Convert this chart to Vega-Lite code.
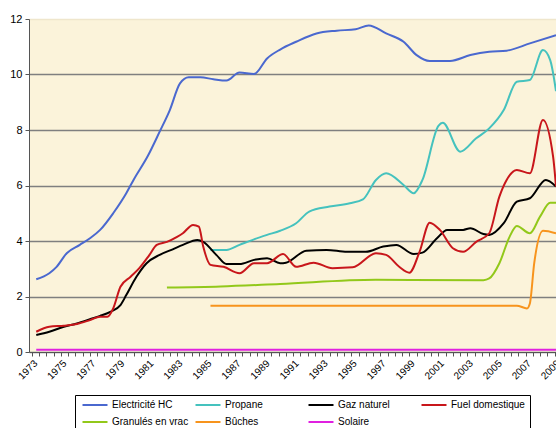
{
  "$schema": "https://vega.github.io/schema/vega-lite/v6.json",
  "width": 527,
  "height": 333,
  "autosize": {"type": "none"},
  "padding": {"left": 29, "top": 19, "right": 0, "bottom": 76},
  "background": "white",
  "config": {
    "view": {"fill": "#FBF3DA", "stroke": null},
    "font": "Liberation Sans",
    "axis": {"labelFont": "Liberation Sans", "labelColor": "black", "domainColor": "#555555", "tickColor": "#555555", "titleFont": "Liberation Sans"}
  },
  "data": {"values": [
    {"s":"Electricité HC","x":1973.3,"y":2.62},{"s":"Electricité HC","x":1974.2,"y":2.84},{"s":"Electricité HC","x":1974.7,"y":3.07},{"s":"Electricité HC","x":1975.4,"y":3.56},{"s":"Electricité HC","x":1976.3,"y":3.86},{"s":"Electricité HC","x":1977.0,"y":4.1},{"s":"Electricité HC","x":1977.7,"y":4.4},{"s":"Electricité HC","x":1978.6,"y":5.0},{"s":"Electricité HC","x":1979.5,"y":5.72},{"s":"Electricité HC","x":1980.0,"y":6.2},{"s":"Electricité HC","x":1981.0,"y":7.08},{"s":"Electricité HC","x":1981.8,"y":7.94},{"s":"Electricité HC","x":1982.5,"y":8.72},{"s":"Electricité HC","x":1983.2,"y":9.68},{"s":"Electricité HC","x":1983.8,"y":9.9},{"s":"Electricité HC","x":1984.6,"y":9.9},{"s":"Electricité HC","x":1985.5,"y":9.83},{"s":"Electricité HC","x":1986.4,"y":9.78},{"s":"Electricité HC","x":1987.3,"y":10.07},{"s":"Electricité HC","x":1988.3,"y":10.02},{"s":"Electricité HC","x":1989.2,"y":10.58},{"s":"Electricité HC","x":1990.1,"y":10.9},{"s":"Electricité HC","x":1991.2,"y":11.18},{"s":"Electricité HC","x":1992.6,"y":11.48},{"s":"Electricité HC","x":1994.0,"y":11.58},{"s":"Electricité HC","x":1995.3,"y":11.63},{"s":"Electricité HC","x":1996.2,"y":11.77},{"s":"Electricité HC","x":1997.4,"y":11.48},{"s":"Electricité HC","x":1998.6,"y":11.18},{"s":"Electricité HC","x":1999.5,"y":10.7},{"s":"Electricité HC","x":2000.4,"y":10.49},{"s":"Electricité HC","x":2001.8,"y":10.49},{"s":"Electricité HC","x":2003.2,"y":10.7},{"s":"Electricité HC","x":2004.5,"y":10.82},{"s":"Electricité HC","x":2005.7,"y":10.86},{"s":"Electricité HC","x":2007.3,"y":11.12},{"s":"Electricité HC","x":2009.1,"y":11.42},
    {"s":"Propane","x":1985.3,"y":3.68},{"s":"Propane","x":1986.4,"y":3.68},{"s":"Propane","x":1987.3,"y":3.86},{"s":"Propane","x":1988.3,"y":4.06},{"s":"Propane","x":1989.2,"y":4.22},{"s":"Propane","x":1990.1,"y":4.37},{"s":"Propane","x":1991.2,"y":4.64},{"s":"Propane","x":1992.1,"y":5.06},{"s":"Propane","x":1993.5,"y":5.24},{"s":"Propane","x":1994.9,"y":5.36},{"s":"Propane","x":1995.8,"y":5.5},{"s":"Propane","x":1996.7,"y":6.2},{"s":"Propane","x":1997.4,"y":6.44},{"s":"Propane","x":1998.6,"y":6.02},{"s":"Propane","x":1999.3,"y":5.72},{"s":"Propane","x":1999.9,"y":6.2},{"s":"Propane","x":2001.0,"y":8.15},{"s":"Propane","x":2001.3,"y":8.26},{"s":"Propane","x":2002.5,"y":7.22},{"s":"Propane","x":2003.6,"y":7.7},{"s":"Propane","x":2004.5,"y":8.06},{"s":"Propane","x":2005.5,"y":8.72},{"s":"Propane","x":2006.4,"y":9.74},{"s":"Propane","x":2007.3,"y":9.8},{"s":"Propane","x":2008.2,"y":10.88},{"s":"Propane","x":2008.7,"y":10.52},{"s":"Propane","x":2009.1,"y":9.4},
    {"s":"Gaz naturel","x":1973.3,"y":0.61},{"s":"Gaz naturel","x":1974.2,"y":0.73},{"s":"Gaz naturel","x":1975.2,"y":0.91},{"s":"Gaz naturel","x":1976.1,"y":1.03},{"s":"Gaz naturel","x":1977.0,"y":1.18},{"s":"Gaz naturel","x":1977.7,"y":1.3},{"s":"Gaz naturel","x":1978.4,"y":1.45},{"s":"Gaz naturel","x":1979.1,"y":1.69},{"s":"Gaz naturel","x":1979.5,"y":2.05},{"s":"Gaz naturel","x":1980.2,"y":2.71},{"s":"Gaz naturel","x":1980.9,"y":3.2},{"s":"Gaz naturel","x":1981.8,"y":3.5},{"s":"Gaz naturel","x":1982.7,"y":3.7},{"s":"Gaz naturel","x":1983.4,"y":3.86},{"s":"Gaz naturel","x":1984.4,"y":4.04},{"s":"Gaz naturel","x":1984.8,"y":3.97},{"s":"Gaz naturel","x":1985.7,"y":3.5},{"s":"Gaz naturel","x":1986.4,"y":3.17},{"s":"Gaz naturel","x":1987.3,"y":3.17},{"s":"Gaz naturel","x":1988.3,"y":3.32},{"s":"Gaz naturel","x":1989.2,"y":3.38},{"s":"Gaz naturel","x":1990.1,"y":3.2},{"s":"Gaz naturel","x":1990.5,"y":3.22},{"s":"Gaz naturel","x":1991.9,"y":3.65},{"s":"Gaz naturel","x":1993.3,"y":3.68},{"s":"Gaz naturel","x":1994.7,"y":3.61},{"s":"Gaz naturel","x":1996.0,"y":3.61},{"s":"Gaz naturel","x":1997.2,"y":3.8},{"s":"Gaz naturel","x":1998.1,"y":3.86},{"s":"Gaz naturel","x":1999.3,"y":3.53},{"s":"Gaz naturel","x":1999.9,"y":3.58},{"s":"Gaz naturel","x":2000.9,"y":4.1},{"s":"Gaz naturel","x":2001.6,"y":4.4},{"s":"Gaz naturel","x":2002.7,"y":4.4},{"s":"Gaz naturel","x":2003.2,"y":4.46},{"s":"Gaz naturel","x":2004.1,"y":4.25},{"s":"Gaz naturel","x":2004.5,"y":4.22},{"s":"Gaz naturel","x":2005.5,"y":4.64},{"s":"Gaz naturel","x":2006.4,"y":5.42},{"s":"Gaz naturel","x":2007.3,"y":5.54},{"s":"Gaz naturel","x":2008.4,"y":6.2},{"s":"Gaz naturel","x":2009.1,"y":5.96},
    {"s":"Fuel domestique","x":1973.3,"y":0.73},{"s":"Fuel domestique","x":1974.2,"y":0.91},{"s":"Fuel domestique","x":1975.2,"y":0.95},{"s":"Fuel domestique","x":1976.1,"y":1.01},{"s":"Fuel domestique","x":1977.0,"y":1.15},{"s":"Fuel domestique","x":1977.7,"y":1.27},{"s":"Fuel domestique","x":1978.2,"y":1.27},{"s":"Fuel domestique","x":1978.6,"y":1.57},{"s":"Fuel domestique","x":1979.1,"y":2.35},{"s":"Fuel domestique","x":1979.8,"y":2.71},{"s":"Fuel domestique","x":1980.4,"y":3.02},{"s":"Fuel domestique","x":1981.1,"y":3.5},{"s":"Fuel domestique","x":1981.6,"y":3.86},{"s":"Fuel domestique","x":1982.3,"y":3.97},{"s":"Fuel domestique","x":1983.0,"y":4.15},{"s":"Fuel domestique","x":1983.4,"y":4.28},{"s":"Fuel domestique","x":1984.1,"y":4.58},{"s":"Fuel domestique","x":1984.5,"y":4.52},{"s":"Fuel domestique","x":1984.8,"y":3.8},{"s":"Fuel domestique","x":1985.3,"y":3.14},{"s":"Fuel domestique","x":1986.2,"y":3.07},{"s":"Fuel domestique","x":1987.3,"y":2.84},{"s":"Fuel domestique","x":1988.3,"y":3.2},{"s":"Fuel domestique","x":1989.2,"y":3.2},{"s":"Fuel domestique","x":1990.3,"y":3.53},{"s":"Fuel domestique","x":1991.2,"y":3.07},{"s":"Fuel domestique","x":1992.4,"y":3.22},{"s":"Fuel domestique","x":1993.7,"y":3.02},{"s":"Fuel domestique","x":1995.1,"y":3.05},{"s":"Fuel domestique","x":1996.7,"y":3.56},{"s":"Fuel domestique","x":1997.4,"y":3.5},{"s":"Fuel domestique","x":1998.3,"y":3.07},{"s":"Fuel domestique","x":1999.0,"y":2.86},{"s":"Fuel domestique","x":1999.7,"y":3.61},{"s":"Fuel domestique","x":2000.4,"y":4.66},{"s":"Fuel domestique","x":2001.1,"y":4.4},{"s":"Fuel domestique","x":2002.0,"y":3.74},{"s":"Fuel domestique","x":2002.7,"y":3.61},{"s":"Fuel domestique","x":2003.6,"y":3.97},{"s":"Fuel domestique","x":2004.5,"y":4.28},{"s":"Fuel domestique","x":2005.2,"y":5.6},{"s":"Fuel domestique","x":2005.7,"y":6.2},{"s":"Fuel domestique","x":2006.4,"y":6.56},{"s":"Fuel domestique","x":2007.3,"y":6.44},{"s":"Fuel domestique","x":2008.2,"y":8.36},{"s":"Fuel domestique","x":2008.9,"y":7.04},{"s":"Fuel domestique","x":2009.1,"y":5.96},
    {"s":"Granulés en vrac","x":1982.3,"y":2.32},{"s":"Granulés en vrac","x":1986.0,"y":2.36},{"s":"Granulés en vrac","x":1990.1,"y":2.45},{"s":"Granulés en vrac","x":1996.7,"y":2.6},{"s":"Granulés en vrac","x":2004.1,"y":2.59},{"s":"Granulés en vrac","x":2004.5,"y":2.65},{"s":"Granulés en vrac","x":2005.2,"y":3.2},{"s":"Granulés en vrac","x":2005.9,"y":4.15},{"s":"Granulés en vrac","x":2006.4,"y":4.54},{"s":"Granulés en vrac","x":2007.3,"y":4.28},{"s":"Granulés en vrac","x":2008.0,"y":4.88},{"s":"Granulés en vrac","x":2008.7,"y":5.38},{"s":"Granulés en vrac","x":2009.1,"y":5.38},
    {"s":"Bûches","x":1985.3,"y":1.67},{"s":"Bûches","x":2006.4,"y":1.67},{"s":"Bûches","x":2007.1,"y":1.57},{"s":"Bûches","x":2007.3,"y":1.75},{"s":"Bûches","x":2007.6,"y":3.2},{"s":"Bûches","x":2008.2,"y":4.37},{"s":"Bûches","x":2009.1,"y":4.28},
    {"s":"Solaire","x":1973.3,"y":0.08},{"s":"Solaire","x":2009.1,"y":0.08}
  ]},
  "mark": {"type": "line", "interpolate": "monotone", "strokeWidth": 2, "clip": true},
  "encoding": {
    "x": {"field": "x", "type": "quantitative",
      "scale": {"domain": [1972.8, 2009.1], "nice": false, "zero": false},
      "axis": {"title": null, "grid": false, "labelAngle": -45, "labelFontSize": 10, "labelOverlap": false,
        "values": [1973,1973.5,1974,1974.5,1975,1975.5,1976,1976.5,1977,1977.5,1978,1978.5,1979,1979.5,1980,1980.5,1981,1981.5,1982,1982.5,1983,1983.5,1984,1984.5,1985,1985.5,1986,1986.5,1987,1987.5,1988,1988.5,1989,1989.5,1990,1990.5,1991,1991.5,1992,1992.5,1993,1993.5,1994,1994.5,1995,1995.5,1996,1996.5,1997,1997.5,1998,1998.5,1999,1999.5,2000,2000.5,2001,2001.5,2002,2002.5,2003,2003.5,2004,2004.5,2005,2005.5,2006,2006.5,2007,2007.5,2008,2008.5,2009],
        "labelExpr": "datum.value % 2 == 1 ? '' + datum.value : ''",
        "tickSize": 4, "labelPadding": 2}},
    "y": {"field": "y", "type": "quantitative",
      "scale": {"domain": [0, 12], "nice": false},
      "axis": {"title": null, "values": [0,2,4,6,8,10,12], "labelFontSize": 11, "tickSize": 4, "labelPadding": 3,
        "grid": true, "gridColor": {"condition": {"test": "datum.value == 12", "value": "#EFE6CC"}, "value": "#7F7F7F"}, "gridWidth": 1.5}},
    "color": {"field": "s", "type": "nominal",
      "scale": {"domain": ["Electricité HC","Propane","Gaz naturel","Fuel domestique","Granulés en vrac","Bûches","Solaire"],
        "range": ["#4A68CF","#45C2BE","#000000","#C8161B","#92C81A","#F7941D","#E020E0"]},
      "legend": {"title": null, "orient": "none", "legendX": 46, "legendY": 376, "direction": "horizontal", "columns": 4, "gridAlign": "all",
        "symbolType": "M-1,0H9", "symbolSize": 25, "symbolStrokeWidth": 2, "labelFontSize": 10, "labelFont": "Liberation Sans", "labelColor": "black",
        "strokeColor": "black", "fillColor": "white", "padding": 5, "columnPadding": 2, "rowPadding": 7, "labelOffset": 22}}
  }
}
